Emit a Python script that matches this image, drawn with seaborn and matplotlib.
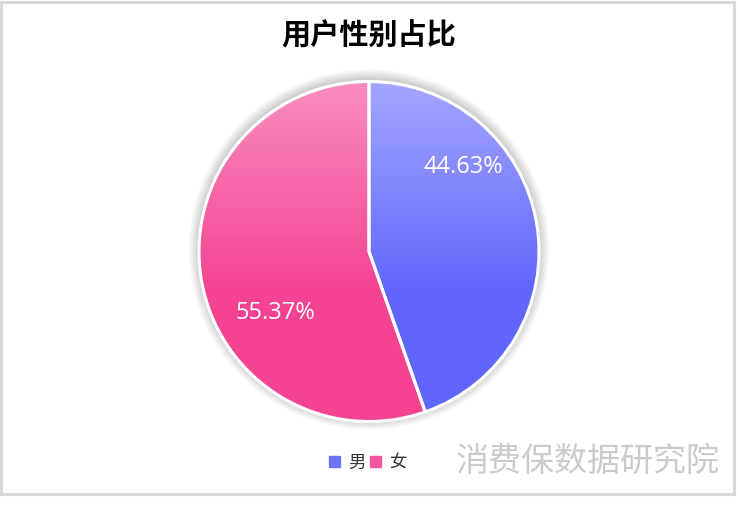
import numpy as np
import matplotlib
matplotlib.use("Agg")
import matplotlib.pyplot as plt
import matplotlib.patches as mpatches
from matplotlib.colors import ListedColormap
import seaborn as sns

# Datos
labels = ["男", "女"]
shares = [44.63, 55.37]
pct_labels = ["44.63%", "55.37%"]
title = "用户性别占比"
watermark = "消费保数据研究院"

# Colores del degradado (arriba claro -> abajo intenso)
top_colors = ["#a3a6ff", "#f98dc0"]
bottom_colors = ["#6066fb", "#f54393"]

sns.set_theme(style="white")
plt.rcParams['font.family'] = ['Noto Sans CJK SC', 'DejaVu Sans']

fig = plt.figure(figsize=(7.38, 5.09), dpi=100)
fig.patch.set_facecolor("white")

# Borde exterior gris claro
fig.add_artist(mpatches.Rectangle((0.002, 0.03), 0.993, 0.966, transform=fig.transFigure,
                                  fill=False, edgecolor="#d9d9d9", linewidth=2.2))

# Ejes: centro del pastel en (369, 251.5) px, radio 170 px
R_PX = 170 * 1.1
cx, cy = 369, 509 - 251.5
ax = fig.add_axes([(cx - R_PX) / 738, (cy - R_PX) / 509, 2 * R_PX / 738, 2 * R_PX / 509])

wedges, _ = ax.pie(shares, startangle=90, counterclock=False, radius=1.0,
                   wedgeprops=dict(linewidth=0), colors=bottom_colors)

# Sombra suave alrededor del pastel
for k in range(10):
    ax.add_patch(mpatches.Circle((0, 0.012), 1.0 + 0.006 * (k + 1), color="black",
                                 alpha=0.018, linewidth=0, zorder=0))

# Relleno degradado recortado a cada sector
for w, c_top, c_bot in zip(wedges, top_colors, bottom_colors):
    pal = sns.blend_palette([c_top, c_bot], 160) + [c_bot] * 100
    cmap = ListedColormap(pal)
    grad = np.linspace(0, 1, 256).reshape(-1, 1)
    im = ax.imshow(grad, cmap=cmap, extent=[-1, 1, -1, 1], origin="upper",
                   aspect="auto", zorder=2)
    im.set_clip_path(w)
    ax.add_patch(mpatches.Wedge(w.center, w.r, w.theta1, w.theta2, facecolor="none",
                                edgecolor="white", linewidth=2.2, zorder=3))

ax.set_xlim(-1.1, 1.1)
ax.set_ylim(-1.1, 1.1)
ax.set_aspect("auto")
ax.axis("off")

# Etiquetas de porcentaje
label_pos = [(463, 167), (275, 313)]
for (px, py), txt in zip(label_pos, pct_labels):
    fig.text(px / 738, 1 - py / 509, txt, color="white", fontsize=17,
             family=["Open Sans", "DejaVu Sans"], ha="center", va="center", zorder=5)

# Título
fig.text(369 / 738, 1 - 35 / 509, title, fontsize=21, fontweight="bold",
         color="black", ha="center", va="center")

# Leyenda
handles = [mpatches.Patch(color=c, label=l) for c, l in zip(["#6f73fc", "#f5559f"], labels)]
leg = fig.legend(handles=handles, loc="center", bbox_to_anchor=(368 / 738, 1 - 463 / 509),
                 ncol=2, frameon=False, fontsize=12.5, handlelength=0.6, handleheight=0.6,
                 handletextpad=0.5, columnspacing=0.25)
for t in leg.get_texts():
    t.set_color("#333333")

# Marca de agua
fig.text(588 / 738, 1 - 461 / 509, watermark, fontsize=23.8, color="#cbcbcb",
         fontweight="light", ha="center", va="center")

fig.savefig("out.png", dpi=100, facecolor="white")
